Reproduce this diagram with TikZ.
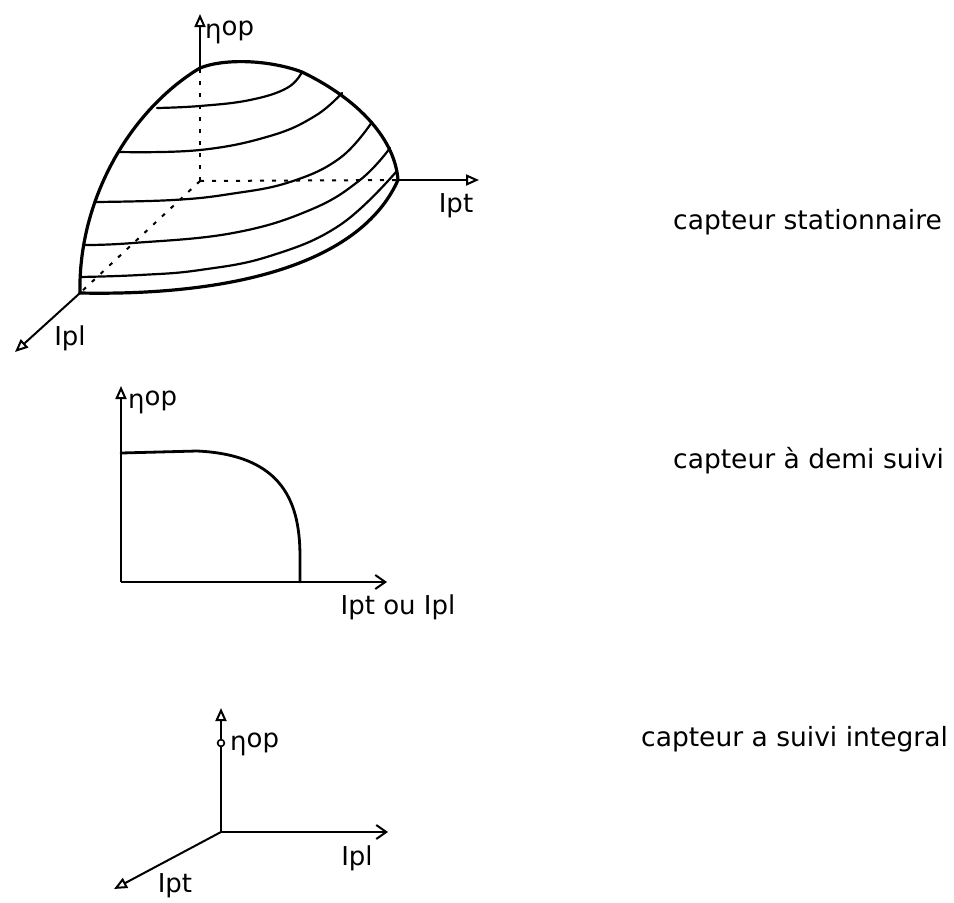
\documentclass[tikz,border=0pt]{standalone}
\usepackage{fontspec}
\setmainfont{DejaVu Sans}
\usetikzlibrary{arrows.meta}
\begin{document}
\begin{tikzpicture}[x=1pt,y=-1pt,
 axis/.style={line width=2pt,-{Triangle[open,length=13pt,width=11pt,line width=2pt]}},
 barb/.style={line width=2pt,-{Straight Barb[length=10pt,width=14pt,line width=2pt]}},
 contour/.style={line width=2.2pt,line cap=round},
 outline/.style={line width=3.2pt,line join=round,line cap=round},
 hidden/.style={line width=2pt,dash pattern=on 4pt off 8pt},
 lbl/.style={font=\fontsize{26.5}{30}\selectfont,inner sep=0pt,anchor=west},
 axl/.style={font=\fontsize{26}{30}\selectfont,inner sep=0pt}]
\useasboundingbox (0,0) rectangle (954,903);

% ---------- top: stationary collector ----------
\coordinate (O1) at (200,181);
\coordinate (T1) at (200,68);
\coordinate (R1) at (398,180);
\coordinate (L1) at (80,293);
\coordinate (ztip) at (200,14);
\coordinate (xtip) at (479,180);
\coordinate (ytip) at (15,352);
\draw[hidden] (O1) -- (T1);
\draw[hidden] (O1) -- (R1);
\draw[hidden] (O1) -- (L1);
\draw[axis] (T1) -- (ztip);
\draw[axis] (R1) -- (xtip);
\draw[axis] (L1) -- (ytip);
\draw[outline] (L1) .. controls (78,200) and (130,110) .. (T1)
  .. controls (225,58) and (270,60) .. (302,72)
  .. controls (360,100) and (395,140) .. (R1);
\draw[outline] (L1) .. controls (230,296) and (360,265) .. (R1);
\draw[contour] plot[smooth,tension=0.7] coordinates {(80,277) (140,275) (200,270) (270,256) (340,225) (396,172)};
\draw[contour] plot[smooth,tension=0.7] coordinates {(83,245) (133,243) (233,233) (310,210) (360,180) (390,148)};
\draw[contour] plot[smooth,tension=0.7] coordinates {(95,202) (173,200) (230,194) (290,182) (340,158) (372,122)};
\draw[contour] plot[smooth,tension=0.7] coordinates {(119,152) (200,150) (270,136) (315,116) (342,93)};
\draw[contour] plot[smooth,tension=0.7] coordinates {(157,108) (200,106) (250,100) (287,88) (302,72)};
\node[axl,anchor=west] (eta1) at (205,32) {η\raisebox{3pt}{op}};
\node[axl] (ipt1) at (456,206) {Ipt};
\node[axl] (ipl1) at (70,338) {Ipl};

% ---------- middle: half tracking ----------
\coordinate (O2) at (121,582);
\coordinate (Y2) at (121,386);
\coordinate (X2) at (387,582);
\draw[axis] (O2) -- (Y2);
\draw[barb] (O2) -- (X2);
\draw[outline,line width=2.8pt] (121,453) -- (197,451) .. controls (285,455) and (300,505) .. (300,557) -- (300,582);
\node[axl,anchor=west] (eta2) at (128,402) {η\raisebox{3pt}{op}};
\node[axl] (ipt2) at (398,607) {Ipt ou Ipl};

% ---------- bottom: full tracking ----------
\coordinate (O3) at (221,832);
\coordinate (Z3) at (221,708);
\coordinate (X3) at (388,832);
\coordinate (Y3) at (114,889);
\draw[axis] (O3) -- (Z3);
\draw[barb] (O3) -- (X3);
\draw[axis] (O3) -- (Y3);
\draw[line width=1.6pt,fill=white] (221,743) circle (3.4pt);
\node[axl,anchor=west] (eta3) at (230,744) {η\raisebox{3pt}{op}};
\node[axl] (ipl3) at (357,858) {Ipl};
\node[axl] (ipt3) at (175,886) {Ipt};

% ---------- captions ----------
\node[lbl] (c1) at (673,222) {capteur stationnaire};
\node[lbl] (c2) at (673,461) {capteur à demi suivi};
\node[lbl] (c3) at (641,739) {capteur a suivi integral};
\end{tikzpicture}
\end{document}
